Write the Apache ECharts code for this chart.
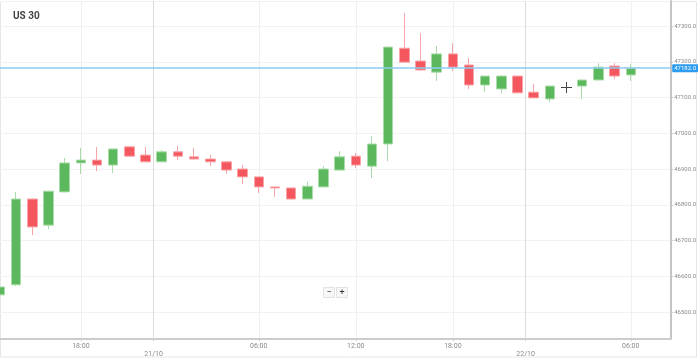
<!DOCTYPE html>
<html><head><meta charset="utf-8">
<script src="https://cdn.jsdelivr.net/npm/echarts@6/dist/echarts.min.js"></script>
<style>html,body{margin:0;padding:0;background:#fff}#c{width:699px;height:359px}</style>
</head><body><div id="c"></div>
<script>
// ---- data (hourly candles) ----
const times = [
 '20/10 13:00','20/10 14:00','20/10 15:00','20/10 16:00','20/10 17:00','20/10 18:00','20/10 19:00','20/10 20:00','20/10 21:00','20/10 22:00',
 '21/10 00:00','21/10 01:00','21/10 02:00','21/10 03:00','21/10 04:00','21/10 05:00','21/10 06:00','21/10 07:00','21/10 08:00','21/10 09:00',
 '21/10 10:00','21/10 11:00','21/10 12:00','21/10 13:00','21/10 14:00','21/10 15:00','21/10 16:00','21/10 17:00','21/10 18:00','21/10 19:00',
 '21/10 20:00','21/10 21:00','21/10 22:00','22/10 00:00','22/10 01:00','22/10 02:00','22/10 03:00','22/10 04:00','22/10 05:00','22/10 06:00'
];
const opens  = [46548,46576,46816,46743,46836,46917,46925,46911,46962,46939, 46920,46948,46934,46928,46920,46900,46878,46850,46847,46816, 46850,46897,46936,46908,46970,47238,47202,47171,47222,47191, 47135,47124,47160,47115,47096,null,47132,47149,47188,47163];
const closes = [46570,46816,46738,46838,46917,46925,46911,46956,46936,46920, 46948,46936,46928,46920,46897,46878,46850,46847,46816,46852, 46900,46934,46911,46970,47241,47199,47177,47222,47185,47135, 47160,47160,47113,47099,47132,null,47149,47185,47160,47182];
const lows   = [46545,46573,46715,46732,46835,46886,46894,46889,46935,46919, 46919,46925,46927,46908,46886,46858,46833,46822,46815,46815, 46849,46896,46903,46875,46922,47197,47174,47146,47174,47124, 47115,47113,47112,47098,47087,null,47096,47148,47152,47146];
const highs  = [46572,46836,46817,46839,46931,46959,46962,46957,46963,46962, 46953,46964,46959,46939,46921,46911,46879,46850,46848,46864, 46908,46950,46945,46992,47243,47336,47280,47244,47252,47210, 47160,47162,47160,47138,47133,null,47150,47196,47196,47194];
const lastPrice = 47182;
const tickLabels = ['18:00','21/10','06:00','12:00','18:00','22/10','06:00'];
const tickSlots  = [5, 9.5, 16, 22, 28, 32.5, 39];   // candle-slot positions
const dayLabels  = ['21/10','22/10'];
const futureSlots = 2.5; // empty space after the last candle (in candles)

// ---- build half-slot category axis ----
const categories = [];
const seriesData = [];
times.forEach((t, i) => {
  categories.push(t);
  seriesData.push(opens[i] == null ? ['-','-','-','-'] : [opens[i], closes[i], lows[i], highs[i]]);
  categories.push(t + ' +30');
  seriesData.push(['-','-','-','-']);
});
for (let k = 0; k < futureSlots * 2 - 1; k++) { categories.push('f' + k); seriesData.push(['-','-','-','-']); }
const labelAt = {};
tickSlots.forEach((s, j) => { labelAt[Math.round(s * 2)] = tickLabels[j]; });

const chart = echarts.init(document.getElementById('c'));
const font = 'Roboto, "Liberation Sans", Arial, sans-serif';
chart.setOption({
  animation: false,
  title: { text: 'US 30', left: 8, top: 6, textStyle: { fontSize: 10, fontWeight: 'bold', color: '#454545', fontFamily: font } },
  grid: { left: 0, right: 27, top: 1, bottom: 20 },
  xAxis: {
    type: 'category', data: categories, boundaryGap: false,
    axisLine: { lineStyle: { color: '#cccccc', width: 2 } },
    axisTick: { show: true, length: 2, interval: (i) => labelAt[i] !== undefined, lineStyle: { color: '#cccccc' } },
    axisLabel: {
      interval: (i) => labelAt[i] !== undefined,
      formatter: (v, i) => { const s = labelAt[i] || ''; return dayLabels.includes(s) ? '\n' + s : s; },
      fontSize: 7, lineHeight: 8, color: '#8a8a8a', margin: 3, fontFamily: font
    },
    splitLine: { show: true, interval: (i) => labelAt[i] !== undefined, lineStyle: { color: '#f0f0f0', width: 1 } }
  },
  yAxis: {
    type: 'value', position: 'right', scale: true,
    min: 46424.5, max: 47370, splitNumber: 10, minInterval: 100, maxInterval: 100,
    axisLine: { show: true, lineStyle: { color: '#c4c4c4', width: 2 } },
    axisTick: { show: true, length: 2, lineStyle: { color: '#cccccc' } },
    axisLabel: { showMinLabel: false, showMaxLabel: false, fontSize: 6, color: '#8a8a8a', margin: 3, fontFamily: font,
      formatter: (v) => v.toFixed(1) },
    splitLine: { show: true, lineStyle: { color: '#f2f2f2', width: 1 } }
  },
  series: [{
    type: 'candlestick', data: seriesData, barWidth: 10,
    itemStyle: { color: '#5cb85c', color0: '#f4575e', borderColor: '#a9dca9', borderColor0: '#f9a4a8', borderWidth: 1 },
    markLine: {
      silent: true, symbol: ['none', 'none'],
      data: [
        { xAxis: categories[19], lineStyle: { color: '#dcdcdc', width: 1, type: 'solid' }, label: { show: false } },
        { xAxis: categories[65], lineStyle: { color: '#dcdcdc', width: 1, type: 'solid' }, label: { show: false } },
        { yAxis: lastPrice, lineStyle: { color: '#8ccbf2', width: 1.5, type: 'solid' },
          label: { show: true, position: 'end', formatter: lastPrice.toFixed(1), color: '#fff', backgroundColor: '#2b9cf0',
                   fontSize: 6, padding: [1, 2, 1, 2], distance: 1, borderRadius: 1, fontFamily: font } }
      ]
    }
  }],
  graphic: [
    { type: 'rect', silent: true, z: -1, shape: { x: 0.5, y: 1.5, width: 696, height: 355.5 }, style: { fill: 'none', stroke: '#e6e6e6', lineWidth: 1 } },
    { type: 'group', left: 323, top: 287, children: [
      { type: 'rect', shape: { x: 0, y: 0, width: 11, height: 10 }, style: { fill: '#f7f7f7', stroke: '#e2e2e2' } },
      { type: 'rect', shape: { x: 13, y: 0, width: 11, height: 10 }, style: { fill: '#f7f7f7', stroke: '#e2e2e2' } },
      { type: 'text', style: { x: 5.5, y: 5, text: '−', fill: '#333', fontSize: 9, align: 'center', verticalAlign: 'middle', fontFamily: font } },
      { type: 'text', style: { x: 18.5, y: 5, text: '+', fill: '#333', fontSize: 9, align: 'center', verticalAlign: 'middle', fontFamily: font } }
    ]},
    { type: 'line', silent: true, z: 100, shape: { x1: 561, y1: 87.5, x2: 572, y2: 87.5 }, style: { stroke: '#444', lineWidth: 1 } },
    { type: 'line', silent: true, z: 100, shape: { x1: 566.5, y1: 82, x2: 566.5, y2: 93 }, style: { stroke: '#444', lineWidth: 1 } }
  ]
});
</script>
</body></html>
